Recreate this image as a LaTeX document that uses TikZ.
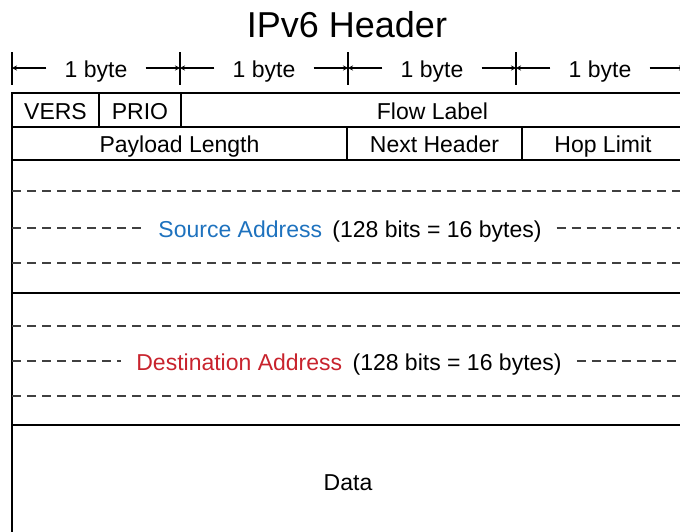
\documentclass[tikz,border=0pt]{standalone}
\usepackage{fontspec}
\setmainfont{Liberation Sans}
\usetikzlibrary{calc,arrows.meta}

\definecolor{srcblue}{RGB}{30,114,190}
\definecolor{dstred}{RGB}{200,35,45}
\definecolor{dashgray}{RGB}{64,64,64}

\tikzset{
  field/.style={draw, rectangle, line width=2.6pt, inner sep=0pt, outer sep=0pt,
                text height=20pt, text depth=2pt},
  bytelbl/.style={inner xsep=18pt, inner ysep=0pt, text height=20pt, text depth=2pt},
  addrlbl/.style={inner xsep=15pt, inner ysep=0pt, text height=20pt, text depth=2pt},
  tickline/.style={line width=1.8pt},
  sepline/.style={dashgray, line width=1.8pt, dash pattern=on 9pt off 6pt},
}

\begin{document}
\begin{tikzpicture}[x=1pt, y=-1pt, font=\fontsize{23}{27}\selectfont]
\useasboundingbox (0,0) rectangle (680,531);
\clip (0,0) rectangle (680,531);

% Title
\node (title) at (347,25) {\fontsize{36}{40}\selectfont IPv6 Header};

% Byte ruler
\foreach \i in {0,...,4} {
  \coordinate (t\i) at ({12+168*\i},68);
  \draw[tickline] ($(t\i)+(0,-16)$) -- ($(t\i)+(0,17)$);
}
\foreach \i [evaluate=\i as \j using int(\i+1)] in {0,...,3} {
  \node[bytelbl] (b\i) at ($(t\i)!0.5!(t\j)$) {1 byte};
  \draw[tickline, -{Stealth[length=5pt,width=5pt]}] (b\i.west) -- (t\i);
  \draw[tickline, -{Stealth[length=5pt,width=5pt]}] (b\i.east) -- (t\j);
}

% First row
\node[field, minimum width=87, minimum height=34, anchor=north west] (vers) at (12,93) {VERS};
\node[field, minimum width=82, minimum height=34, anchor=west] (prio) at (vers.east) {PRIO};
\node[field, minimum width=503, minimum height=34, anchor=west] (flow) at (prio.east) {Flow Label};

% Second row
\node[field, minimum width=335, minimum height=33, anchor=north west] (payload) at (vers.south west) {Payload Length};
\node[field, minimum width=175, minimum height=33, anchor=west] (next) at (payload.east) {Next Header};
\node[field, minimum width=162, minimum height=33, anchor=west] (hop) at (next.east) {Hop Limit};

% Source address
\node[field, minimum width=672, minimum height=133, anchor=north west] (srcbox) at (payload.south west) {};
\node[addrlbl] (src) at (350,228) {{\color{srcblue}Source Address}\hspace{4pt} (128 bits = 16 bytes)};
\draw[sepline] ($(srcbox.north west)+(0,31)$) -- ($(srcbox.north east)+(0,31)$);
\draw[sepline] (srcbox.west |- src.west) -- (src.west);
\draw[sepline] (src.east) -- (srcbox.east |- src.east);
\draw[sepline] ($(srcbox.south west)+(0,-30)$) -- ($(srcbox.south east)+(0,-30)$);

% Destination address
\node[field, minimum width=672, minimum height=132, anchor=north west] (dstbox) at (srcbox.south west) {};
\node[addrlbl] (dst) at (349,361) {{\color{dstred}Destination Address}\hspace{4pt} (128 bits = 16 bytes)};
\draw[sepline] ($(dstbox.north west)+(0,33)$) -- ($(dstbox.north east)+(0,33)$);
\draw[sepline] (dstbox.west |- dst.west) -- (dst.west);
\draw[sepline] (dst.east) -- (dstbox.east |- dst.east);
\draw[sepline] ($(dstbox.south west)+(0,-29)$) -- ($(dstbox.south east)+(0,-29)$);

% Data
\node[field, minimum width=672, minimum height=112, anchor=north west] (data) at (dstbox.south west) {Data};
\end{tikzpicture}
\end{document}
